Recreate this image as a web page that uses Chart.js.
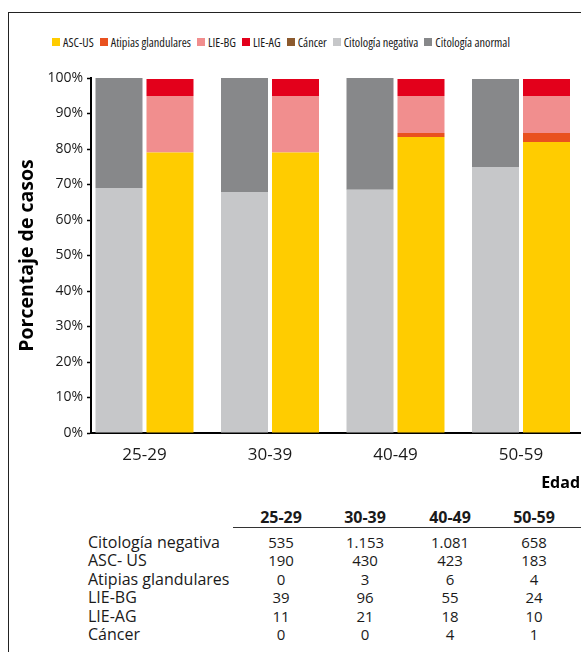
<!DOCTYPE html>
<html>
<head>
<meta charset="utf-8">
<script src="https://cdn.jsdelivr.net/npm/chart.js@4.4.1/dist/chart.umd.min.js"></script>
<style>
    html, body { margin: 0; padding: 0; background: #fff; width: 581px; height: 652px; overflow: hidden; }
    body { position: relative; font-family: 'Open Sans', sans-serif; color: #1a1a1a; }
    #frame { position: absolute; left: 8px; top: 12px; width: 600px; height: 700px;
             border-left: 1px solid #222; border-top: 1px solid #222; }
    #chartWrap { position: absolute; left: 0; top: 0; width: 581px; height: 500px; }
    #legend { position: absolute; left: 52px; top: 35px; height: 14px; display: flex; align-items: center;
              font-family: 'Open Sans', sans-serif; font-stretch: 75%; font-size: 12.3px; white-space: nowrap; }
    #legend .box { display: inline-block; width: 8px; height: 8px; margin-right: 3px; }
    #legend .txt { margin-right: 6px; }
    .cell { position: absolute; white-space: nowrap; }
    .num { text-align: center; width: 84px; }
    .hdr { font-weight: bold; font-size: 16px; line-height: 20px; }
    .row { font-size: 16px; line-height: 18.4px; }
    .row.num { font-size: 15px; }
    #rule { position: absolute; left: 233px; top: 527px; width: 348px; height: 1px; background: #333; }
</style>
</head>
<body>
<div id="frame"></div>
<div id="legend"></div>
<div id="chartWrap"><canvas id="casosChart" width="581" height="500"></canvas></div>
<div id="rule"></div>
<div id="tabla"></div>

<script>
// ============================================
// DATA
// ============================================
const ages = ['25-29', '30-39', '40-49', '50-59'];

// percentages
const negativaPct = [69.0, 67.9, 68.5, 74.9];
const anormalPct  = [31.0, 32.1, 31.5, 24.8];
const ascusPct    = [79.0, 79.0, 83.4, 82.0];
const atipiasPct  = [0, 0, 1.1, 2.5];
const liebgPct    = [15.9, 15.9, 10.4, 10.4];
const lieagPct    = [4.8, 4.8, 4.8, 4.8];
const cancerPct   = [0, 0, 0, 0];

const yTicks = [0, 10, 20, 30, 40, 50, 60, 70, 80, 90, 100];

// counts in the table under the chart
const countNegativa = [535, 1153, 1081, 658];
const countAscus    = [190, 430, 423, 183];
const countAtipias  = [0, 3, 6, 4];
const countLiebg    = [39, 96, 55, 24];
const countLieag    = [11, 21, 18, 10];
const countCancer   = [0, 0, 4, 1];

const tableRows = [
    ['Citología negativa', countNegativa],
    ['ASC- US', countAscus],
    ['Atipias glandulares', countAtipias],
    ['LIE-BG', countLiebg],
    ['LIE-AG', countLieag],
    ['Cáncer', countCancer]
];

// ============================================
// HELPERS
// ============================================
function points(values) {
    return values.map((v, i) => ({ x: i, y: v }));
}

function fmtCount(n) {
    // Spanish style: 1.153
    return String(n).replace(/\B(?=(\d{3})+(?!\d))/g, '.');
}

// ============================================
// CHART
// ============================================
const datasets = [
    { label: 'ASC-US', data: points(ascusPct), backgroundColor: '#FFCC00', stack: 'anormal', order: 1 },
    { label: 'Atipias glandulares', data: points(atipiasPct), backgroundColor: '#E9511F', stack: 'anormal', order: 1 },
    { label: 'LIE-BG', data: points(liebgPct), backgroundColor: '#F18E8E', stack: 'anormal', order: 1 },
    { label: 'LIE-AG', data: points(lieagPct), backgroundColor: '#E3001B', stack: 'anormal', order: 1 },
    { label: 'Cáncer', data: points(cancerPct), backgroundColor: '#8C5A2E', stack: 'anormal', order: 1 },
    { label: 'Citología negativa', data: points(negativaPct), backgroundColor: '#C6C7C9', stack: 'total', order: 0 },
    { label: 'Citología anormal', data: points(anormalPct), backgroundColor: '#87888A', stack: 'total', order: 0 }
];

const casosChart = new Chart(document.getElementById('casosChart').getContext('2d'), {
    type: 'bar',
    data: { datasets: datasets },
    options: {
        responsive: false,
        animation: false,
        layout: { padding: { top: 78, left: 0, right: 1, bottom: 0 } },
        datasets: {
            bar: { categoryPercentage: 0.8127, barPercentage: 0.9216, borderWidth: 0 }
        },
        plugins: {
            legend: { display: false },
            tooltip: { enabled: false }
        },
        scales: {
            x: {
                type: 'linear',
                offset: false,
                min: -0.4263,
                max: 3.4701,
                afterBuildTicks: (scale) => { scale.ticks = ages.map((a, i) => ({ value: i })); },
                afterFit: (scale) => { scale.height = 67; },
                grid: { display: false, drawTicks: false, offset: false },
                border: { color: '#000', width: 2 },
                ticks: {
                    callback: (v) => ages[v],
                    color: '#1a1a1a',
                    font: { family: 'Open Sans', size: 17 },
                    padding: 12,
                    maxRotation: 0,
                    autoSkip: false
                },
                title: {
                    display: true,
                    text: 'Edad',
                    align: 'end',
                    color: '#000',
                    font: { family: 'Open Sans', size: 16, weight: 'bold' },
                    padding: { top: 0, bottom: 7 }
                }
            },
            y: {
                stacked: true,
                min: 0,
                max: 100,
                afterBuildTicks: (scale) => { scale.ticks = yTicks.map(v => ({ value: v })); },
                afterFit: (scale) => { scale.width = 91; },
                grid: { drawOnChartArea: false, drawTicks: true, tickLength: 4, tickColor: '#000', tickWidth: 1.5 },
                border: { color: '#000', width: 2 },
                ticks: {
                    callback: (v) => v + '%',
                    color: '#1a1a1a',
                    font: { family: 'Open Sans', size: 14 },
                    padding: 4
                },
                title: {
                    display: true,
                    text: 'Porcentaje de casos',
                    color: '#000',
                    font: { family: 'Open Sans', size: 19.5, weight: 'bold' },
                    padding: { top: 16, bottom: 0 }
                }
            }
        }
    }
});

// ============================================
// LEGEND (html, same order as the datasets)
// ============================================
const legendEl = document.getElementById('legend');
datasets.forEach(ds => {
    const box = document.createElement('span');
    box.className = 'box';
    box.style.background = ds.backgroundColor;
    const txt = document.createElement('span');
    txt.className = 'txt';
    txt.innerText = ds.label;
    legendEl.appendChild(box);
    legendEl.appendChild(txt);
});

// ============================================
// TABLE
// ============================================
const tabla = document.getElementById('tabla');
const colCenters = [281, 365, 450, 534];

function addCell(text, left, top, cls) {
    const el = document.createElement('div');
    el.className = 'cell ' + cls;
    el.style.left = left + 'px';
    el.style.top = top + 'px';
    el.innerText = text;
    tabla.appendChild(el);
}

ages.forEach((a, i) => addCell(a, colCenters[i] - 42, 507, 'hdr num'));

tableRows.forEach((row, r) => {
    const top = 533 + r * 18.4;
    addCell(row[0], 88, top, 'row');
    row[1].forEach((n, i) => addCell(fmtCount(n), colCenters[i] - 42, top, 'row num'));
});
</script>
</body>
</html>
